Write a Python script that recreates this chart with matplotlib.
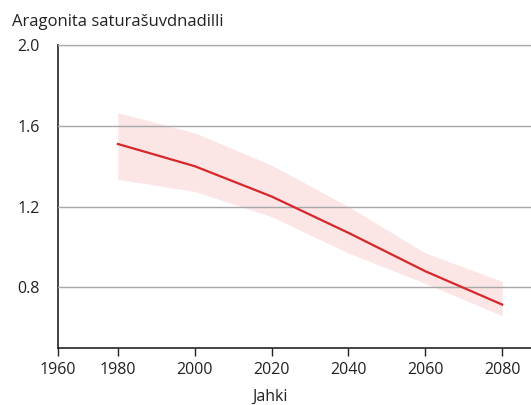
import matplotlib
matplotlib.use("Agg")
import matplotlib.pyplot as plt
import numpy as np

plt.rcParams['font.family'] = ['Open Sans', 'DejaVu Sans']

# values
years = [1980, 2000, 2020, 2040, 2060, 2080]
mean_val = [1.51, 1.40, 1.25, 1.07, 0.88, 0.715]
upper_val = [1.665, 1.565, 1.405, 1.20, 0.97, 0.83]
lower_val = [1.335, 1.275, 1.15, 0.97, 0.82, 0.66]
xtick_years = [1960, 1980, 2000, 2020, 2040, 2060, 2080]
ytick_vals = [0.8, 1.2, 1.6, 2.0]


# the reference axis is squeezed before 1980
def fwd(x):
    x = np.asarray(x, dtype=float)
    return np.where(x < 1980, (x - 1980) * 3.0, (x - 1980) * 3.85)


def inv(y):
    y = np.asarray(y, dtype=float)
    return np.where(y < 0, y / 3.0 + 1980, y / 3.85 + 1980)


fig = plt.figure(figsize=(5.31, 4.05), dpi=100)
ax = fig.add_axes([58 / 531, 1 - 348 / 405, 1 - 58 / 531, (348 - 45) / 405])
ax.set_xscale('function', functions=(fwd, inv))

ax.fill_between(years, lower_val, upper_val, color='#fbe5e5', linewidth=0, zorder=1)
ax.plot(years, mean_val, color='#d9262b', linewidth=1.6, zorder=3)

ax.set_xlim(1960, 2087.5)
ax.set_ylim(0.5, 2.0)
ax.set_xticks(xtick_years)
ax.set_yticks(ytick_vals)
ax.set_yticklabels(['%.1f' % v for v in ytick_vals])
ax.tick_params(axis='y', length=0, pad=13, labelsize=11.5, colors='#222222')
ax.tick_params(axis='x', length=6, width=1, pad=4, labelsize=11.5, colors='#222222')
ax.yaxis.grid(True, color='#a8a8a8', linewidth=1, zorder=2)
ax.set_axisbelow(False)

ax.spines['right'].set_visible(False)
ax.spines['top'].set_color('#555555')
ax.spines['top'].set_linewidth(0.8)
ax.spines['left'].set_color('#222222')
ax.spines['bottom'].set_color('#222222')
ax.spines['left'].set_linewidth(1.2)
ax.spines['bottom'].set_linewidth(1.2)

ax.set_xlabel('Jahki', fontsize=11.5, color='#222222')
ax.xaxis.set_label_coords((270 - 58) / (531 - 58), -0.135)
fig.text(12 / 531, 1 - 22 / 405, 'Aragonita saturašuvdnadilli', fontsize=12,
         color='#222222', va='center', ha='left')

fig.savefig('out.png', dpi=100)
